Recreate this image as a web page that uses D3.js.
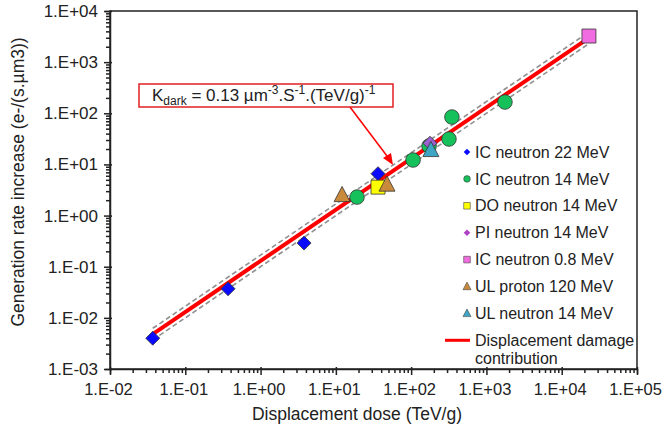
<!DOCTYPE html>
<meta charset="utf-8">
<style>
body { margin: 0; background: #fff; }
text { font-family: "Liberation Sans", Arial, sans-serif; fill: #222; }
.axis path, .axis line { stroke: #222; }
</style>
<svg class="chart" width="662" height="432"></svg>
<script src="https://d3js.org/d3.v7.min.js"></script>
<script>

// data
var icN22 = [[0.037, 0.0040], [0.37, 0.037], [3.78, 0.29], [36.3, 6.6]];
var icN14 = [[19.1, 2.3], [106, 12.2], [173, 22.9], [318, 31.4], [348, 84.6], [1762, 166]];
var doN14 = [[36.3, 3.6]];
var piN14 = [[178, 26]];
var icN08 = [[23000, 3240]];
var ulP120 = [[12.1, 2.5], [47.8, 4.0]];
var ulN14 = [[183, 19]];

var kDark = 0.13;
var fitRange = [0.037, 23000];
var band = 1.3;

var legendNames = ["IC neutron 22 MeV", "IC neutron 14 MeV", "DO neutron 14 MeV",
  "PI neutron 14 MeV", "IC neutron 0.8 MeV", "UL proton 120 MeV", "UL neutron 14 MeV"];

var svg = d3.select(".chart"),
    plotL = 110, plotR = 637, plotT = 11, plotB = 369;

var x = d3.scaleLog().domain([1e-2, 1e5]).range([plotL, plotR]);
var y = d3.scaleLog().domain([1e-3, 1e4]).range([plotB, plotT]);

function fmt(v) {
  var e = Math.round(Math.log10(v));
  return "1.E" + (e < 0 ? "-" : "+") + String(Math.abs(e)).padStart(2, "0");
}
function isMajor(v) {
  return Math.abs(Math.log10(v) - Math.round(Math.log10(v))) < 1e-6;
}

// frame
svg.append("rect")
  .attr("x", plotL).attr("y", plotT)
  .attr("width", plotR - plotL).attr("height", plotB - plotT)
  .attr("fill", "none").attr("stroke", "#222").attr("stroke-width", 1.5);

// axes
var xAxis = svg.append("g").attr("class", "axis")
  .attr("transform", "translate(0," + plotB + ")")
  .call(d3.axisBottom(x).tickValues(x.ticks()).tickSize(5).tickFormat(function(d) { return isMajor(d) ? fmt(d) : ""; }));
xAxis.selectAll(".tick line").attr("y1", function(d) { return isMajor(d) ? -2 : 0; })
  .attr("y2", function(d) { return isMajor(d) ? 6 : 4; }).attr("stroke-width", 1.5);
xAxis.selectAll("text").attr("font-size", 16.5).attr("x", -2).attr("y", 10).attr("dy", "0.95em");
xAxis.select(".domain").attr("stroke-width", 1.5);

var yAxis = svg.append("g").attr("class", "axis")
  .attr("transform", "translate(" + plotL + ",0)")
  .call(d3.axisLeft(y).tickValues(y.ticks()).tickSize(5).tickFormat(function(d) { return isMajor(d) ? fmt(d) : ""; }));
yAxis.selectAll(".tick line").attr("x1", function(d) { return isMajor(d) ? 2 : 0; })
  .attr("x2", function(d) { return isMajor(d) ? -6 : -4; }).attr("stroke-width", 1.5);
yAxis.selectAll("text").attr("font-size", 17).attr("x", -12);
yAxis.select(".domain").attr("stroke-width", 1.5);

// axis titles
svg.append("text")
  .attr("x", 357).attr("y", 420)
  .attr("text-anchor", "middle").attr("font-size", 17.5)
  .text("Displacement dose (TeV/g)");
svg.append("text")
  .attr("transform", "translate(24,182) rotate(-90)")
  .attr("text-anchor", "middle").attr("font-size", 17.5)
  .text("Generation rate increase (e-/(s.\u00b5m3))");

// fit line and band
var line = d3.line().x(function(d) { return x(d[0]); }).y(function(d) { return y(d[1]); });
function fit(k) { return fitRange.map(function(v) { return [v, k * v]; }); }

[kDark * band, kDark / band].forEach(function(k) {
  svg.append("path").datum(fit(k)).attr("d", line)
    .attr("fill", "none").attr("stroke", "#909090")
    .attr("stroke-width", 1.6).attr("stroke-dasharray", "5,3");
});
svg.append("path").datum(fit(kDark)).attr("d", line)
  .attr("fill", "none").attr("stroke", "#ff0000").attr("stroke-width", 4);

// markers
var styles = [
  { data: icN22, fill: "#0a0aff", shape: "diamond", size: 7 },
  { data: icN14, fill: "#16c05a", shape: "circle", size: 7.3 },
  { data: doN14, fill: "#ffff00", shape: "square", size: 7 },
  { data: piN14, fill: "#9b5fd0", shape: "diamond", size: 7 },
  { data: icN08, fill: "#f06ce0", shape: "square", size: 7 },
  { data: ulP120, fill: "#c98a3c", shape: "triangle", size: 8 },
  { data: ulN14, fill: "#3fa5c5", shape: "triangle", size: 8 }
];

function shapePath(shape, r) {
  if (shape === "diamond") return "M0," + (-r) + "L" + r + ",0L0," + r + "L" + (-r) + ",0Z";
  if (shape === "square") return "M" + (-r) + "," + (-r) + "h" + 2 * r + "v" + 2 * r + "h" + (-2 * r) + "Z";
  if (shape === "triangle") return "M0," + (-r * 1.1) + "L" + r + "," + r * 0.8 + "L" + (-r) + "," + r * 0.8 + "Z";
  return d3.symbol(d3.symbolCircle, Math.PI * r * r)();
}

styles.forEach(function(s) {
  svg.append("g").selectAll("path").data(s.data).enter().append("path")
    .attr("transform", function(d) { return "translate(" + x(d[0]) + "," + y(d[1]) + ")"; })
    .attr("d", shapePath(s.shape, s.size))
    .attr("fill", s.fill).attr("stroke", "#333").attr("stroke-width", 0.8);
});

// legend
var legend = svg.append("g");
var legendFills = ["#0a0aff", "#16c05a", "#ffff00", "#b040c8", "#f06ce0", "#c98a3c", "#3fa5c5"];
legendNames.forEach(function(name, i) {
  var ly = 152 + i * 26.9;
  var s = styles[i];
  legend.append("path")
    .attr("transform", "translate(467," + ly + ")")
    .attr("d", shapePath(s.shape, s.shape === "triangle" ? 4 : 3.3))
    .attr("fill", legendFills[i]).attr("stroke", s.shape === "diamond" ? "none" : "#444").attr("stroke-width", 0.6);
  legend.append("text").attr("x", 475).attr("y", ly).attr("dy", "0.35em")
    .attr("font-size", 16).text(name);
});
var lineY = 152 + 7 * 26.9;
legend.append("line").attr("x1", 445).attr("x2", 470).attr("y1", lineY).attr("y2", lineY)
  .attr("stroke", "#ff0000").attr("stroke-width", 3);
legend.append("text").attr("x", 475).attr("y", lineY).attr("dy", "0.35em")
  .attr("font-size", 16).text("Displacement damage");
legend.append("text").attr("x", 475).attr("y", lineY + 18).attr("dy", "0.35em")
  .attr("font-size", 16).text("contribution");

// annotation
svg.append("line").attr("x1", 350).attr("y1", 107).attr("x2", 390).attr("y2", 160)
  .attr("stroke", "#ff0000").attr("stroke-width", 1.5);
svg.append("path").attr("d", "M393,165L383,158L391,153Z").attr("fill", "#ff0000");
svg.append("rect").attr("x", 139).attr("y", 84).attr("width", 254).attr("height", 23)
  .attr("fill", "#fff").attr("stroke", "#e02020").attr("stroke-width", 1.5);
var ann = svg.append("text").attr("x", 152).attr("y", 101).attr("font-size", 17);
ann.append("tspan").text("K");
ann.append("tspan").attr("font-size", 12).attr("dy", 4).text("dark");
ann.append("tspan").attr("dy", -4).text(" = 0.13 \u00b5m");
ann.append("tspan").attr("font-size", 12).attr("dy", -7).text("-3");
ann.append("tspan").attr("dy", 7).text(".S");
ann.append("tspan").attr("font-size", 12).attr("dy", -7).text("-1");
ann.append("tspan").attr("dy", 7).text(".(TeV/g)");
ann.append("tspan").attr("font-size", 12).attr("dy", -7).text("-1");

</script>
